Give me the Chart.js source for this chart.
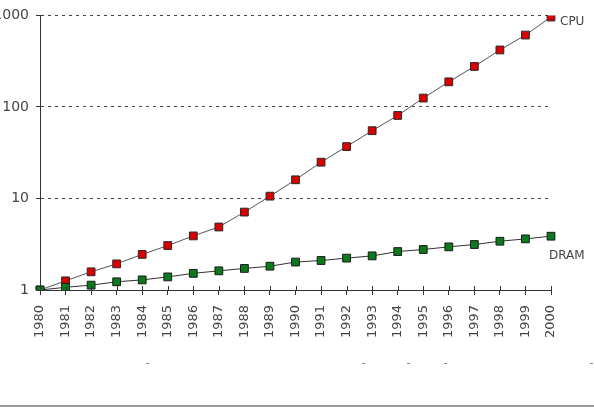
<!DOCTYPE html>
<html>
<head>
<meta charset="utf-8">
<script src="https://cdn.jsdelivr.net/npm/chart.js@4/dist/chart.umd.min.js"></script>
<style>
    html, body { margin: 0; padding: 0; background: #fff; }
    #wrap { position: relative; width: 594px; height: 413px; overflow: hidden; }
    #perf { position: absolute; left: -10px; top: 0; }
    .rule { position: absolute; left: 0; top: 405px; width: 594px; height: 2px; background: #9a9a9a; }
    .speck { position: absolute; top: 363px; width: 3px; height: 1px; background: #888; }
</style>
</head>
<body>
<div id="wrap">
    <canvas id="perf" width="604" height="413"></canvas>
    <div class="speck" style="left:146px"></div>
    <div class="speck" style="left:362px"></div>
    <div class="speck" style="left:407px"></div>
    <div class="speck" style="left:444px"></div>
    <div class="speck" style="left:590px"></div>
    <div class="rule"></div>
</div>
<script>
const years = ['1980', '1981', '1982', '1983', '1984', '1985', '1986', '1987', '1988', '1989', '1990',
    '1991', '1992', '1993', '1994', '1995', '1996', '1997', '1998', '1999', '2000'];
const cpu = [1, 1.26, 1.58, 1.93, 2.45, 3.06, 3.9, 4.88, 7.1, 10.6, 16.0,
    24.9, 36.9, 55, 80.7, 125, 188, 277, 419, 610, 960];
const dram = [1, 1.07, 1.13, 1.23, 1.29, 1.39, 1.52, 1.62, 1.72, 1.82, 2.02,
    2.1, 2.23, 2.36, 2.63, 2.77, 2.96, 3.14, 3.41, 3.62, 3.87];
const yTicks = [1, 10, 100, 1000];

// series names next to the last point, plus the upper half of the x tick marks
const endLabels = {
    id: 'endLabels',
    afterDatasetsDraw(chart) {
        const ctx = chart.ctx;
        const x = chart.scales.x;
        const bottom = chart.chartArea.bottom;
        ctx.save();
        ctx.strokeStyle = '#333';
        ctx.lineWidth = 1;
        ctx.beginPath();
        x.ticks.forEach((t, i) => {
            const px = Math.round(x.getPixelForTick(i)) + 0.5;
            ctx.moveTo(px, bottom - 4);
            ctx.lineTo(px, bottom);
        });
        ctx.stroke();

        ctx.font = '12px "DejaVu Sans"';
        ctx.fillStyle = '#444';
        ctx.textBaseline = 'middle';
        chart.data.datasets.forEach((ds, i) => {
            const pts = chart.getDatasetMeta(i).data;
            const last = pts[pts.length - 1];
            if (ds.label === 'CPU') {
                ctx.fillText(ds.label, last.x + 9, last.y + 5);
            } else {
                ctx.fillText(ds.label, last.x - 2, last.y + 20);
            }
        });
        ctx.restore();
    }
};

new Chart(document.getElementById('perf'), {
    type: 'line',
    plugins: [endLabels],
    data: {
        labels: years,
        datasets: [
            {
                label: 'CPU',
                data: cpu,
                order: 2,
                borderColor: '#555',
                borderWidth: 1,
                tension: 0,
                pointStyle: 'rect',
                pointRadius: 5.5,
                pointBackgroundColor: '#d80000',
                pointBorderColor: '#2a2a2a',
                pointBorderWidth: 1
            }, {
                label: 'DRAM',
                data: dram,
                order: 1,
                borderColor: '#333',
                borderWidth: 1,
                tension: 0,
                pointStyle: 'rect',
                pointRadius: 5.5,
                pointBackgroundColor: '#0b7a1c',
                pointBorderColor: '#1a1a1a',
                pointBorderWidth: 1
            }
        ]
    },
    options: {
        responsive: false,
        animation: false,
        layout: {
            padding: { top: 14, right: 43, left: 0, bottom: 0 }
        },
        plugins: {
            legend: { display: false },
            tooltip: { enabled: false }
        },
        scales: {
            x: {
                offset: false,
                afterFit(scale) { scale.height = 123; },
                grid: {
                    drawOnChartArea: false,
                    drawTicks: true,
                    tickLength: 5,
                    tickColor: '#333',
                    tickWidth: 1
                },
                border: { display: true, color: '#333', width: 1 },
                ticks: {
                    autoSkip: false,
                    minRotation: 90,
                    maxRotation: 90,
                    padding: 10,
                    color: '#444',
                    font: { family: 'DejaVu Sans', size: 13 }
                }
            },
            y: {
                type: 'logarithmic',
                min: 1,
                max: 1000,
                afterFit(scale) { scale.width = 50; },
                afterBuildTicks(scale) {
                    scale.ticks = yTicks.map(v => ({ value: v }));
                },
                grid: {
                    color: '#444',
                    lineWidth: 1,
                    drawTicks: true,
                    tickLength: 4,
                    tickColor: '#333'
                },
                border: { display: true, color: '#333', width: 1, dash: [3, 4] },
                ticks: {
                    padding: 7,
                    color: '#444',
                    font: { family: 'DejaVu Sans', size: 14 },
                    callback: (v) => String(v)
                }
            }
        }
    }
});
</script>
</body>
</html>
